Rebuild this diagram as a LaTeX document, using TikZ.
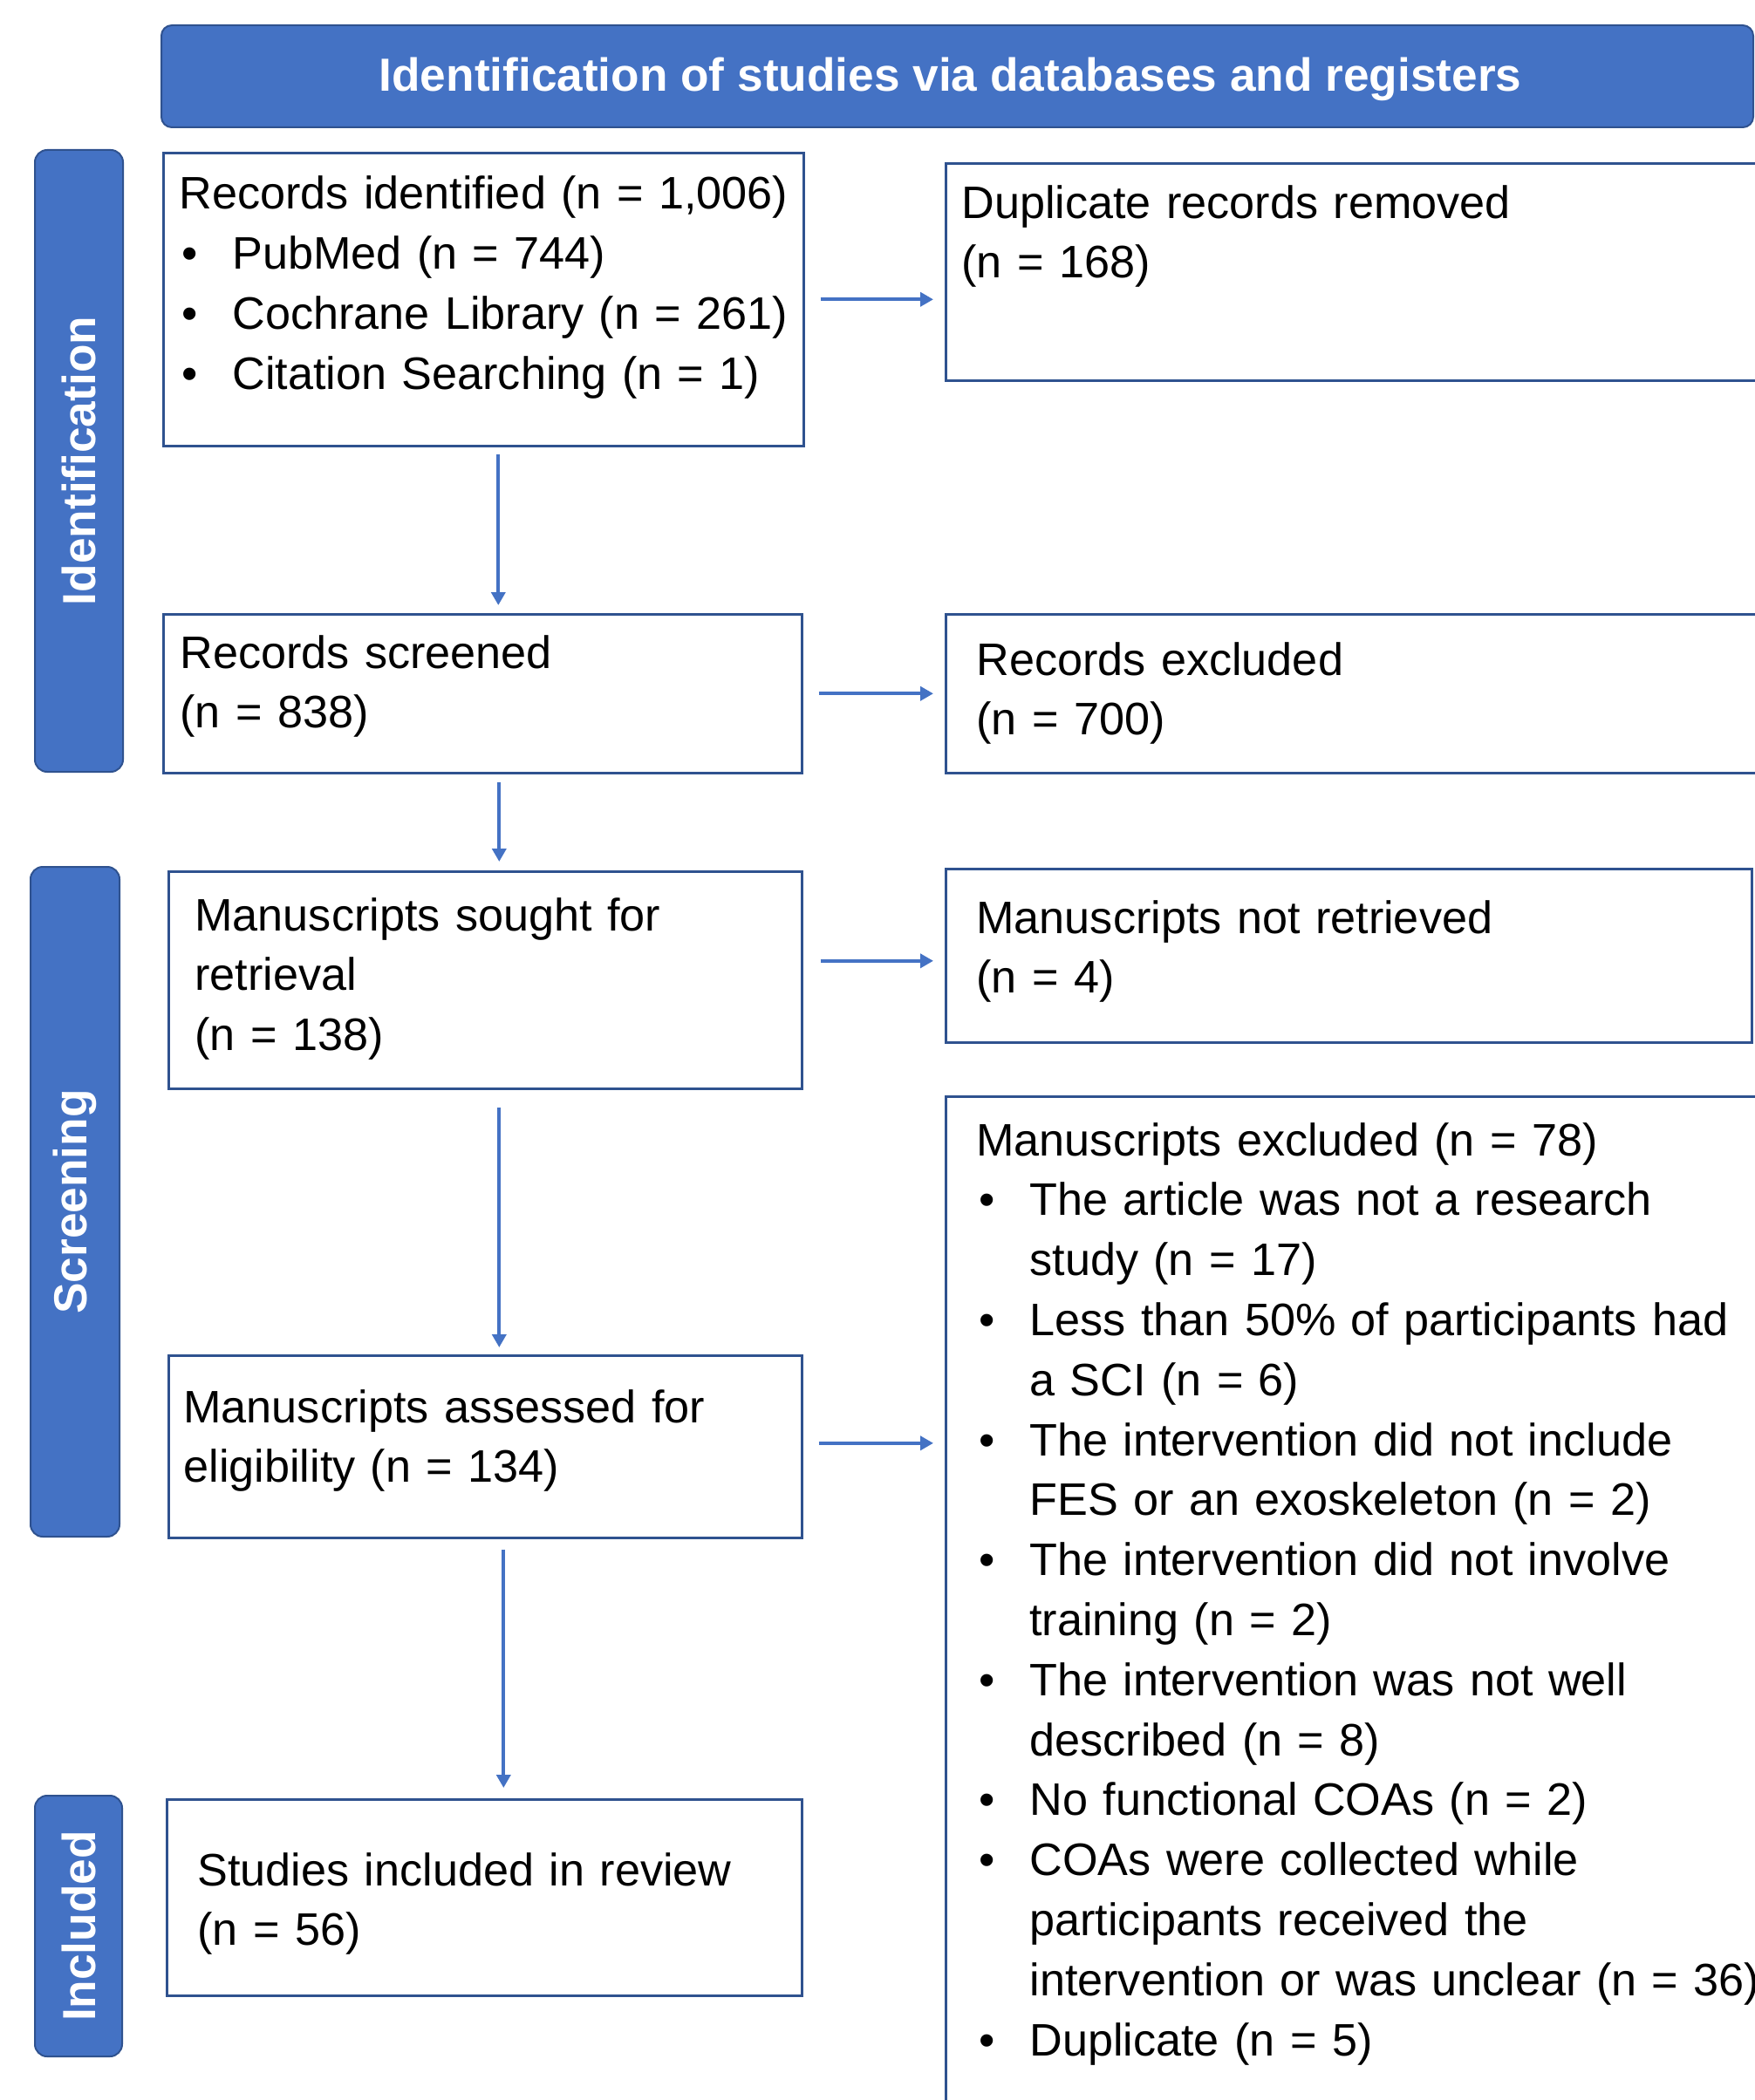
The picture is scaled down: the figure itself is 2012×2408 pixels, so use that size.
\documentclass[tikz,border=0pt]{standalone}
\usepackage{fontspec}
\setmainfont{Liberation Sans}
\usepackage{xcolor}
\usepackage{tikz}
\usetikzlibrary{arrows.meta,positioning,calc}
\definecolor{prismablue}{HTML}{4472C4}
\definecolor{prismaedge}{HTML}{2F528F}
\newcommand{\bodyfont}{\fontsize{26.1pt}{34.4pt}\selectfont}
\newcommand{\headfont}{\fontsize{26.6pt}{32pt}\selectfont\bfseries}
\newcommand{\bulmark}{\makebox[30.5pt][l]{\hspace{1.5pt}\textbullet}}
\newcommand{\hangtab}{\hspace*{30.5pt}}
\tikzstyle{box} = [rectangle, draw=prismaedge, line width=1.3pt, fill=white, anchor=north west, inner sep=0pt]
\tikzstyle{txt} = [anchor=base west, inner sep=0pt, align=left, text width=470pt, font=\bodyfont]
\tikzstyle{sidebar} = [rectangle, rounded corners=7pt, draw=prismaedge, line width=1pt, fill=prismablue, text=white, font=\headfont, rotate=90]
\tikzstyle{arrow} = [draw=prismablue, line width=2pt, -{Triangle[length=7.5pt,width=8pt]}]

\begin{document}
\begin{tikzpicture}[x=0.5pt, y=-0.5pt]
\useasboundingbox (0,0) rectangle (2012,2408);
\clip (0,0) rectangle (2012,2408);
% header and side bars
\node (head) [rectangle, rounded corners=6pt, draw=prismaedge, line width=1pt, fill=prismablue, text=white, font=\headfont, anchor=north west, minimum width=912.5pt, minimum height=58.5pt, text depth=2pt] at (184,28) {\hspace*{-8pt}Identification of studies via databases and registers};
\node (sidid) [sidebar, minimum width=356.5pt, minimum height=50.5pt] at (90.5,528.5) {Identification};
\node (sidscr) [sidebar, minimum width=384pt, minimum height=51pt] at (86,1378) {Screening};
\node (sidinc) [sidebar, minimum width=149.5pt, minimum height=50pt] at (90,2208.5) {Included};
% left column
\node (ident) [box, minimum width=367pt, minimum height=168pt] at (186,174) {};
\node (screen) [box, minimum width=366pt, minimum height=91pt] at (186,703) {};
\node (sought) [box, minimum width=363pt, minimum height=124.5pt] at (192,998) {};
\node (assess) [box, minimum width=363pt, minimum height=104.5pt] at (192,1553) {};
\node (incl) [box, minimum width=364pt, minimum height=112.5pt] at (190,2062) {};
% right column
\node (dup) [box, minimum width=500pt, minimum height=124.5pt] at (1083,186) {};
\node (recex) [box, minimum width=500pt, minimum height=91pt] at (1083,703) {};
\node (notret) [box, minimum width=462pt, minimum height=99.5pt] at (1083,995) {};
\node (msex) [box, minimum width=500pt, minimum height=625pt] at (1083,1256) {};
% texts
\node (ident-t) [txt] at (205,240) {Records identified (n = 1,006)\\
\bulmark PubMed (n = 744)\\
\bulmark Cochrane Library (n = 261)\\
\bulmark Citation Searching (n = 1)};
\node (screen-t) [txt] at (206,766) {Records screened\\(n = 838)};
\node (sought-t) [txt] at (223,1067) {Manuscripts sought for\\retrieval\\(n = 138)};
\node (assess-t) [txt] at (210,1631) {Manuscripts assessed for\\eligibility (n = 134)};
\node (incl-t) [txt] at (226,2162) {Studies included in review\\(n = 56)};
\node (dup-t) [txt] at (1102,250) {Duplicate records removed\\(n = 168)};
\node (recex-t) [txt] at (1119,774) {Records excluded\\(n = 700)};
\node (notret-t) [txt] at (1119,1070) {Manuscripts not retrieved\\(n = 4)};
\node (msex-t) [txt] at (1119,1325) {Manuscripts excluded (n = 78)\\
\bulmark The article was not a research\\
\hangtab study (n = 17)\\
\bulmark Less than 50\% of participants had\\
\hangtab a SCI (n = 6)\\
\bulmark The intervention did not include\\
\hangtab FES or an exoskeleton (n = 2)\\
\bulmark The intervention did not involve\\
\hangtab training (n = 2)\\
\bulmark The intervention was not well\\
\hangtab described (n = 8)\\
\bulmark No functional COAs (n = 2)\\
\bulmark COAs were collected while\\
\hangtab participants received the\\
\hangtab intervention or was unclear (n = 36)\\
\bulmark Duplicate (n = 5)};
% arrows
\draw [arrow, shorten <=9pt, shorten >=6.5pt] (ident.east) -- (ident.east -| dup.west);
\draw [arrow, shorten <=9pt, shorten >=6.5pt] (screen.east) -- (screen.east -| recex.west);
\draw [arrow, shorten <=10pt, shorten >=6.5pt] ([yshift=-3pt]sought.east |- notret.west) -- ([yshift=-3pt]notret.west);
\draw [arrow, shorten <=9pt, shorten >=6.5pt] ([yshift=2pt]assess.east) -- ([yshift=2pt]assess.east -| msex.west);
\draw [arrow, shorten <=4pt, shorten >=4.5pt] ([xshift=8.5pt]ident.south) -- ([xshift=8.5pt]ident.south |- screen.north);
\draw [arrow, shorten <=4.5pt, shorten >=5pt] ([xshift=9.5pt]screen.south) -- ([xshift=9.5pt]screen.south |- sought.north);
\draw [arrow, shorten <=10pt, shorten >=4pt] ([xshift=8pt]sought.south) -- ([xshift=8pt]sought.south |- assess.north);
\draw [arrow, shorten <=6pt, shorten >=6pt] ([xshift=10.5pt]assess.south) -- ([xshift=10.5pt]assess.south |- incl.north);
\end{tikzpicture}
\end{document}
